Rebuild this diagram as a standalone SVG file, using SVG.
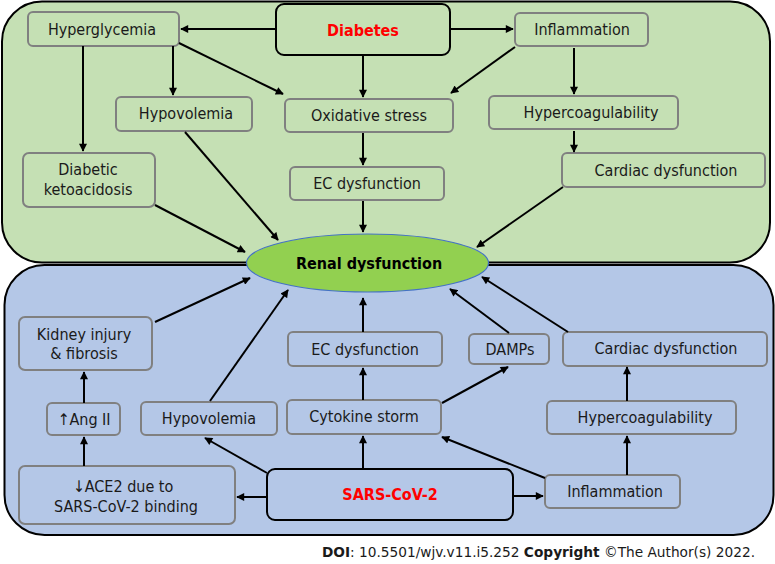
<svg xmlns="http://www.w3.org/2000/svg" width="775" height="564" viewBox="0 0 775 564">
<defs>
<marker id="ah" viewBox="0 0 10 10" refX="9" refY="5" markerWidth="9" markerHeight="8" markerUnits="userSpaceOnUse" orient="auto"><path d="M0,0 L10,5 L0,10 z" fill="#000"/></marker>
<style>
.pg{fill:#c5e0b4;stroke:#000;stroke-width:2}
.pb{fill:#b4c7e7;stroke:#000;stroke-width:2}
.ng{fill:#c5e0b4;stroke:#808080;stroke-width:2}
.nb{fill:#b4c7e7;stroke:#808080;stroke-width:2}
.t{font-family:"DejaVu Sans Condensed","Liberation Sans",Arial,sans-serif;font-stretch:condensed;font-size:16px;fill:#1a1a1a;text-anchor:middle}
.b{font-family:"DejaVu Sans Condensed","Liberation Sans",Arial,sans-serif;font-stretch:condensed;font-size:16px;font-weight:bold;text-anchor:middle}
.red{fill:#ff0000}
.c line{stroke:#000;stroke-width:2;marker-end:url(#ah)}
</style>
</defs>
<rect x="0" y="0" width="775" height="564" fill="#fff"/>
<g id="panel-diabetes"><rect class="pg" x="2" y="1.5" width="768" height="261" rx="40"/></g>
<g id="panel-sars"><rect class="pb" x="4.5" y="265" width="769" height="270" rx="40"/></g>

<g id="diabetes"><rect x="276" y="4" width="174" height="51" rx="8" fill="#c5e0b4" stroke="#000" stroke-width="2"/><text class="b red" x="363" y="36">Diabetes</text></g>
<g id="hyperglycemia"><rect class="ng" x="28" y="12" width="151" height="34" rx="5"/><text class="t" x="102" y="34.5">Hyperglycemia</text></g>
<g id="inflammation-d"><rect class="ng" x="515" y="13" width="133" height="33" rx="5"/><text class="t" x="582" y="35">Inflammation</text></g>
<g id="hypovolemia-d"><rect class="ng" x="116" y="97" width="136" height="34" rx="5"/><text class="t" x="186" y="119">Hypovolemia</text></g>
<g id="oxidative-stress"><rect class="ng" x="285" y="99" width="168" height="33" rx="5"/><text class="t" x="369" y="121">Oxidative stress</text></g>
<g id="hypercoag-d"><rect class="ng" x="489" y="96" width="189" height="33" rx="5"/><text class="t" x="591" y="117.5">Hypercoagulability</text></g>
<g id="dka"><rect class="ng" x="23" y="153" width="132" height="54" rx="6"/><text class="t" x="88" y="175">Diabetic</text><text class="t" x="88" y="195">ketoacidosis</text></g>
<g id="ec-d"><rect class="ng" x="290" y="167" width="154" height="33" rx="5"/><text class="t" x="367" y="189">EC dysfunction</text></g>
<g id="cardiac-d"><rect class="ng" x="562" y="153" width="203" height="34" rx="5"/><text class="t" x="666" y="175.5">Cardiac dysfunction</text></g>

<g id="renal"><ellipse cx="367.5" cy="263" rx="121" ry="29" fill="#92d050" stroke="#4472c4" stroke-width="1.2"/><text class="b" x="369" y="269">Renal dysfunction</text></g>

<g id="kidney"><rect class="nb" x="19" y="317" width="133" height="53" rx="6"/><text class="t" x="84" y="340">Kidney injury</text><text class="t" x="84" y="359">&amp; fibrosis</text></g>
<g id="angii"><rect class="nb" x="47" y="403" width="73" height="32" rx="5"/><text class="t" x="84" y="424.5">↑Ang II</text></g>
<g id="hypovolemia-s"><rect class="nb" x="141" y="402" width="136" height="33" rx="5"/><text class="t" x="209" y="424">Hypovolemia</text></g>
<g id="ace2"><rect class="nb" x="19" y="466" width="216" height="58" rx="6"/><text class="t" x="123" y="492">↓ACE2 due to</text><text class="t" x="126" y="512">SARS-CoV-2 binding</text></g>
<g id="sars"><rect x="267" y="469" width="246" height="51" rx="8" fill="#b4c7e7" stroke="#000" stroke-width="2"/><text class="b red" x="390" y="500">SARS-CoV-2</text></g>
<g id="ec-s"><rect class="nb" x="288" y="332" width="154" height="34" rx="5"/><text class="t" x="365" y="354.5">EC dysfunction</text></g>
<g id="cytokine"><rect class="nb" x="287" y="400" width="154" height="34" rx="5"/><text class="t" x="364" y="422">Cytokine storm</text></g>
<g id="damps"><rect class="nb" x="469" y="334" width="80" height="30" rx="5"/><text class="t" x="510" y="355">DAMPs</text></g>
<g id="cardiac-s"><rect class="nb" x="563" y="332" width="204" height="34" rx="5"/><text class="t" x="666" y="354">Cardiac dysfunction</text></g>
<g id="hypercoag-s"><rect class="nb" x="547" y="401" width="189" height="33" rx="5"/><text class="t" x="645" y="423">Hypercoagulability</text></g>
<g id="inflammation-s"><rect class="nb" x="545" y="475" width="135" height="33" rx="5"/><text class="t" x="615" y="497">Inflammation</text></g>

<g id="connectors" class="c">
<line x1="276" y1="29" x2="181" y2="29"/>
<line x1="450" y1="29" x2="513" y2="29"/>
<line x1="363" y1="55" x2="363" y2="97"/>
<line x1="173" y1="46" x2="173" y2="95"/>
<line x1="83" y1="46" x2="83" y2="151"/>
<line x1="179" y1="43" x2="283" y2="94"/>
<line x1="515" y1="47" x2="451" y2="93"/>
<line x1="574" y1="48" x2="574" y2="94"/>
<line x1="574" y1="131" x2="574" y2="152"/>
<line x1="363" y1="133" x2="363" y2="165"/>
<line x1="363" y1="201" x2="363" y2="232"/>
<line x1="155" y1="205" x2="245" y2="252"/>
<line x1="185" y1="132" x2="278" y2="240"/>
<line x1="563" y1="187" x2="477" y2="247"/>
<line x1="155" y1="322" x2="250" y2="278"/>
<line x1="210" y1="401" x2="288" y2="290"/>
<line x1="363" y1="400" x2="363" y2="368"/>
<line x1="363" y1="332" x2="363" y2="298"/>
<line x1="442" y1="403" x2="508" y2="367"/>
<line x1="509" y1="333" x2="450" y2="289"/>
<line x1="568" y1="332" x2="482" y2="277"/>
<line x1="627" y1="401" x2="627" y2="367"/>
<line x1="627" y1="475" x2="627" y2="436"/>
<line x1="545" y1="478" x2="442" y2="437"/>
<line x1="513" y1="496" x2="543" y2="496"/>
<line x1="363" y1="469" x2="363" y2="436"/>
<line x1="267" y1="473" x2="205" y2="438"/>
<line x1="267" y1="497" x2="237" y2="497"/>
<line x1="84" y1="466" x2="84" y2="437"/>
<line x1="84" y1="403" x2="84" y2="372"/>
</g>

<text x="322" y="557" font-family="DejaVu Sans Condensed,Liberation Sans,Arial,sans-serif" font-stretch="condensed" font-size="14" fill="#1a1a1a" textLength="433" lengthAdjust="spacingAndGlyphs"><tspan font-weight="bold">DOI</tspan>: 10.5501/wjv.v11.i5.252  <tspan font-weight="bold">Copyright</tspan> ©The Author(s) 2022.</text>
</svg>
